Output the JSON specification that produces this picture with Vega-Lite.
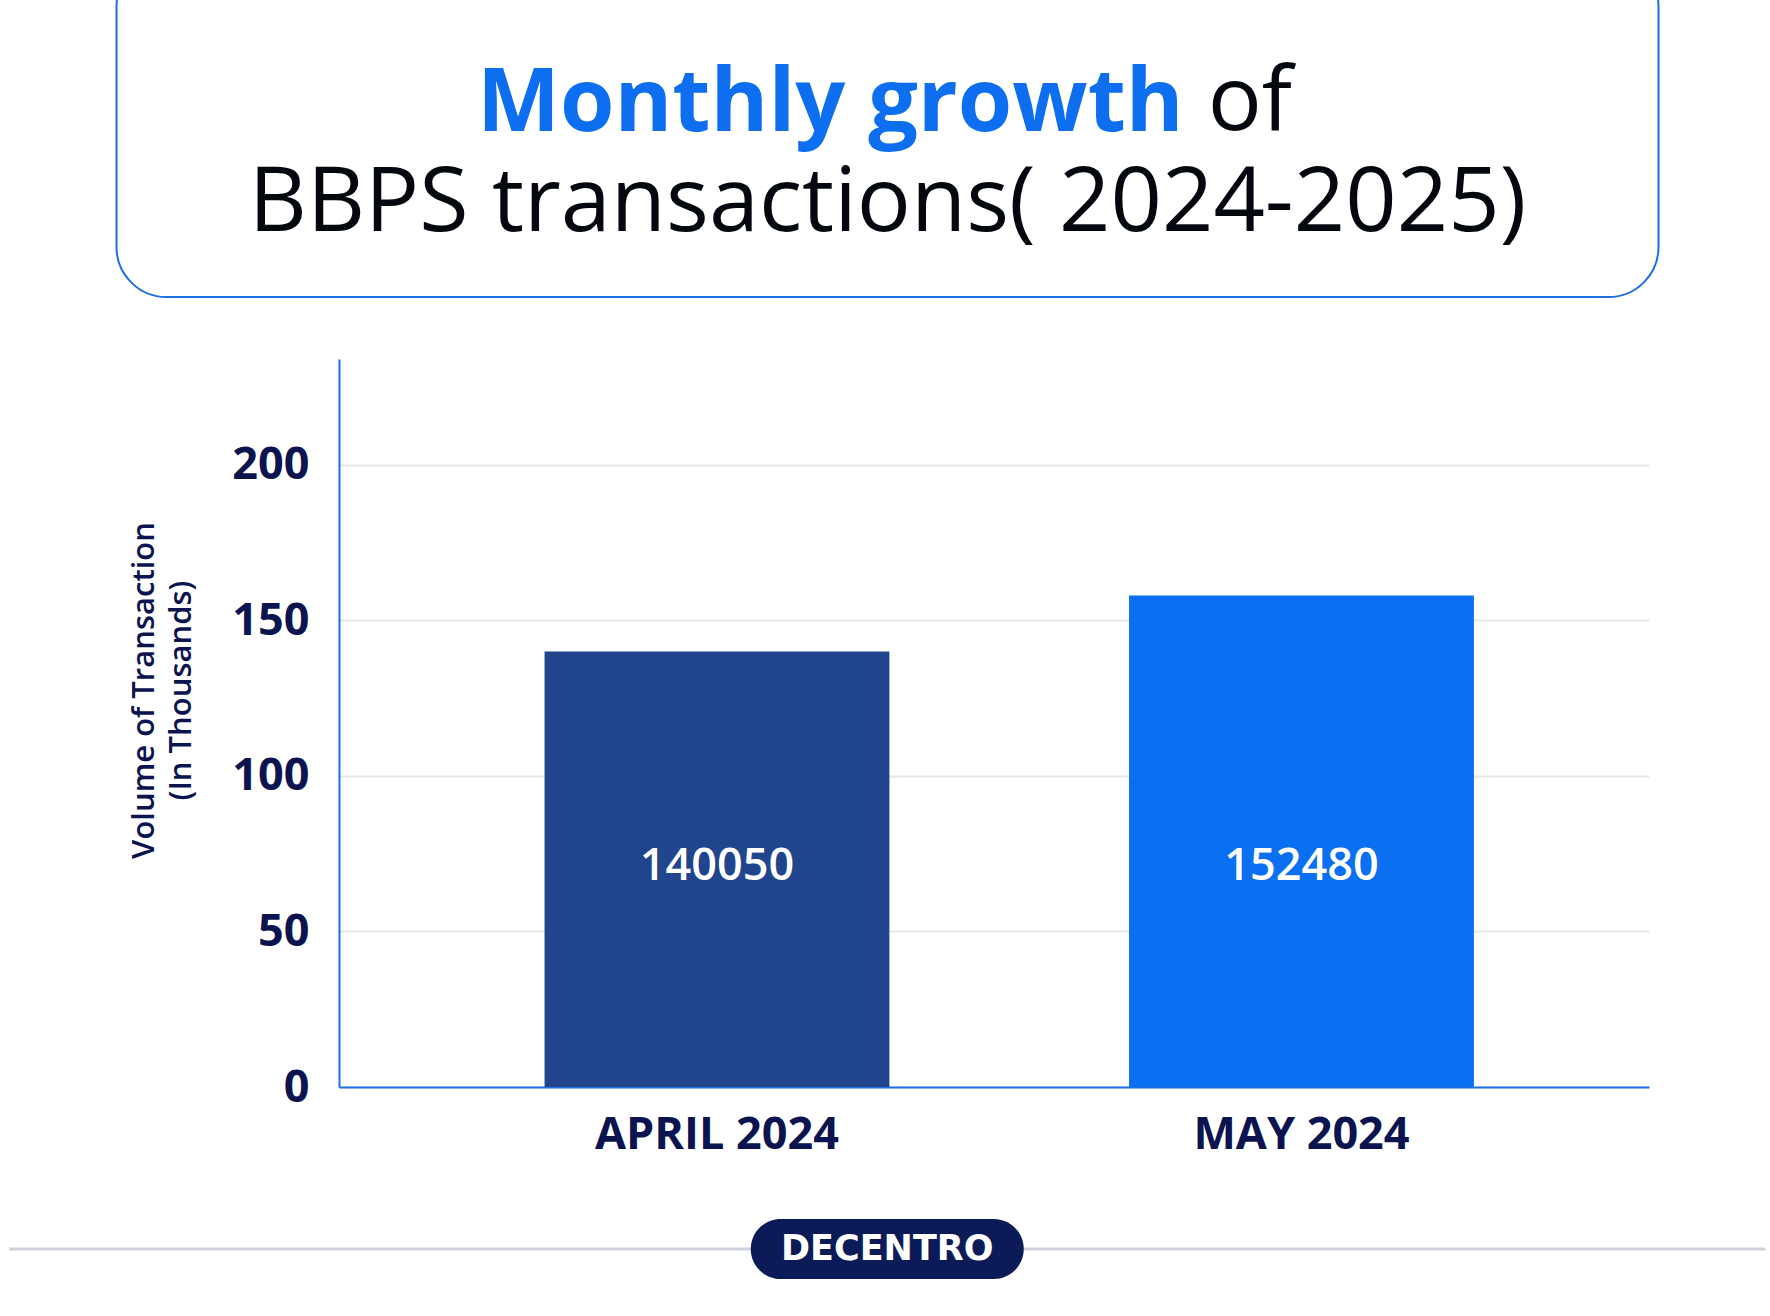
{
  "$schema": "https://vega.github.io/schema/vega-lite/v6.json",
  "background": "white",
  "padding": {"left": 7, "right": 7, "top": -44, "bottom": 0},
  "config": {"view": {"stroke": null}},
  "datasets": {
    "bars": [
      {"month": "APRIL 2024", "volume": 140, "label": "140050"},
      {"month": "MAY 2024", "volume": 158, "label": "152480"}
    ],
    "brand": [{"brand": "DECENTRO"}]
  },
  "center": true,
  "spacing": 61,
  "vconcat": [
    {
      "width": 1542,
      "height": 340,
      "view": {"stroke": "#1E6FE6", "strokeWidth": 2, "cornerRadius": 50, "fill": null},
      "title": {
        "text": "\u200bMonthly growth\u00a0\u00a0\u00a0\u00a0\u00a0\u200b",
        "subtitle": ["\u200b\u00a0\u00a0\u00a0\u00a0\u00a0\u00a0\u00a0\u00a0\u00a0\u00a0\u00a0\u00a0\u00a0\u00a0\u00a0\u00a0\u00a0\u00a0\u00a0\u00a0\u00a0\u00a0\u00a0\u00a0\u00a0\u00a0\u00a0\u00a0\u00a0\u00a0\u00a0of", "BBPS transactions( 2024-2025)"],
        "orient": "top",
        "anchor": "middle",
        "frame": "group",
        "offset": -295,
        "font": "Open Sans",
        "fontSize": 88,
        "fontWeight": 700,
        "color": "#0D6EF0",
        "lineHeight": 90,
        "subtitleFont": "Open Sans",
        "subtitleFontSize": 90,
        "subtitleFontWeight": 400,
        "subtitleColor": "#05070F",
        "subtitleLineHeight": 101,
        "subtitlePadding": -90
      },
      "data": {"values": []},
      "mark": "rule",
      "encoding": {}
    },
    {
      "width": 1522,
      "height": 728,
      "data": {"name": "bars"},
      "encoding": {
        "x": {
          "field": "month",
          "type": "nominal",
          "sort": null,
          "scale": {"range": [212, 1522], "paddingInner": 0.41, "paddingOuter": 0.3256, "align": 0.54},
          "axis": {
            "title": null,
            "labelAngle": 0,
            "labelLimit": 0,
            "ticks": false,
            "labelFont": "Open Sans",
            "labelFontSize": 45,
            "labelFontWeight": 700,
            "labelColor": "#0C1450",
            "labelPadding": 25,
            "domainColor": "#1E6FE6",
            "domainWidth": 2
          }
        }
      },
      "layer": [
        {
          "mark": {"type": "bar"},
          "encoding": {
            "y": {
              "field": "volume",
              "type": "quantitative",
              "scale": {"domain": [0, 234], "nice": false},
              "axis": {
                "offset": -212,
                "values": [0, 50, 100, 150, 200],
                "title": ["Volume of Transaction", "(In Thousands)"],
                "titleFont": "Open Sans",
                "titleFontSize": 31,
                "titleFontWeight": 600,
                "titleColor": "#0C1450",
                "titleLineHeight": 37,
                "titlePadding": 34,
                "titleY": 331,
                "labelFont": "Open Sans",
                "labelFontSize": 45,
                "labelFontWeight": 700,
                "labelColor": "#0C1450",
                "labelPadding": 30,
                "ticks": false,
                "domainColor": "#1E6FE6",
                "domainWidth": 2,
                "gridColor": "#E8E8E8",
                "gridWidth": 2
              }
            },
            "color": {
              "field": "month",
              "type": "nominal",
              "scale": {"domain": ["APRIL 2024", "MAY 2024"], "range": ["#21458C", "#0B6FF1"]},
              "legend": null
            }
          }
        },
        {
          "mark": {"type": "text", "font": "Open Sans", "fontSize": 45, "fontWeight": 600, "color": "white", "baseline": "middle"},
          "encoding": {
            "y": {"datum": 71, "type": "quantitative"},
            "text": {"field": "label"}
          }
        }
      ]
    },
    {
      "width": 1756,
      "height": 30,
      "data": {"name": "brand"},
      "encoding": {
        "y": {"datum": 0, "type": "quantitative", "scale": {"domain": [-1, 1]}, "axis": null}
      },
      "layer": [
        {"mark": {"type": "rule", "color": "#CFD2DC", "strokeWidth": 3}},
        {
          "mark": {"type": "point", "filled": true, "opacity": 1, "color": "#0B1B58", "size": 74529,
            "shape": "M -0.78 -0.22 L 0.78 -0.22 A 0.22 0.22 0 0 1 0.78 0.22 L -0.78 0.22 A 0.22 0.22 0 0 1 -0.78 -0.22 Z"},
          "encoding": {"x": {"field": "brand", "type": "nominal", "axis": null}}
        },
        {
          "mark": {"type": "text", "font": "DejaVu Sans", "fontSize": 35, "fontWeight": 700, "color": "white", "baseline": "middle"},
          "encoding": {"x": {"field": "brand", "type": "nominal", "axis": null}, "text": {"field": "brand"}}
        }
      ]
    }
  ]
}
